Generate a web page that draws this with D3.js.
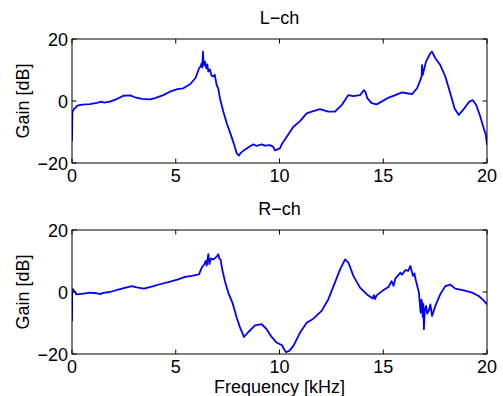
<!DOCTYPE html>
<html>
<head>
<meta charset="utf-8">
<script src="https://cdn.jsdelivr.net/npm/d3@7"></script>
<style>
  html, body { margin: 0; padding: 0; background: #fff; }
  svg text { font-family: "Liberation Sans", Arial, Helvetica, sans-serif; font-size: 18px; fill: #000; }
</style>
</head>
<body>
<div id="chart"></div>
<script>
// Frequency response, left and right channel
const lchFreq = [0, 0.02, 0.1, 0.26, 0.5, 0.87, 1.2, 1.43, 1.55, 1.83, 2.15, 2.47, 2.8, 3.04, 3.36, 3.76, 4.0, 4.4, 4.72, 5.08,
  5.36, 5.69, 5.96, 6.12, 6.2, 6.25, 6.28, 6.31, 6.35, 6.41, 6.47, 6.52, 6.57, 6.65, 6.72, 6.81, 6.88, 6.97, 7.05, 7.13,
  7.29, 7.46, 7.66, 7.82, 7.94, 8.05, 8.12, 8.18, 8.3, 8.42, 8.6, 8.74, 8.9, 9.14, 9.3, 9.54, 9.7, 9.78, 9.9, 10.02,
  10.13, 10.35, 10.67, 10.99, 11.31, 11.55, 11.95, 12.35, 12.67, 13.0, 13.32, 13.56, 13.88, 13.95, 14.07, 14.15, 14.23, 14.44, 14.68, 14.92,
  15.2, 15.58, 15.9, 16.14, 16.39, 16.63, 16.79, 16.85, 16.87, 16.9, 17.06, 17.27, 17.35, 17.51, 17.75, 17.99, 18.23, 18.44, 18.64, 18.88,
  19.15, 19.31, 19.48, 19.68, 19.84, 19.95, 20.0];
const lchGain = [-13, -3.5, -2.6, -1.5, -1.2, -1.0, -0.6, -0.2, -0.5, -0.2, 0.6, 1.7, 1.8, 1.2, 0.7, 0.5, 0.9, 1.9, 3.0, 3.8,
  4.1, 5.4, 7.5, 10.5, 11.2, 12.2, 10.8, 15.9, 11.5, 12.7, 10.5, 11.8, 9.5, 10.2, 8.2, 7.9, 8.5, 5.2, 4.0, 0.9,
  -3.4, -7.2, -11, -14.2, -16.9, -17.6, -16.8, -16.5, -15.8, -15.3, -14.5, -14.0, -14.5, -14.0, -14.4, -14.2, -14.8, -15.9, -15.6, -15.3,
  -13.7, -11.5, -8.3, -6.5, -4.0, -3.4, -2.6, -3.4, -3.4, -1.3, 1.9, 1.6, 1.9, 2.5, 3.5, 2.8, 0.9, -0.7, -1.1, -0.2,
  0.9, 1.9, 2.8, 2.5, 2.2, 4.1, 6.8, 8.0, 11.6, 8.4, 12.7, 15.4, 15.9, 13.8, 11.6, 7.9, 2.5, -2.4, -4.5, -2.6,
  -0.2, 0.3, -1.3, -5.1, -8.8, -11, -14.2];

const rchFreq = [0, 0.01, 0.05, 0.22, 0.55, 0.87, 1.2, 1.35, 1.5, 1.83, 2.31, 2.88, 3.12, 3.47, 3.84, 4.24, 4.64, 5.08, 5.45, 5.77,
  6.12, 6.25, 6.37, 6.45, 6.49, 6.57, 6.62, 6.7, 6.81, 6.9, 6.97, 7.05, 7.1, 7.16, 7.24, 7.37, 7.53, 7.73, 7.94, 8.1,
  8.29, 8.5, 8.82, 9.14, 9.38, 9.62, 9.86, 10.13, 10.18, 10.31, 10.47, 10.67, 10.99, 11.31, 11.63, 12.03, 12.35, 12.67, 12.92, 13.16,
  13.32, 13.56, 13.88, 14.2, 14.49, 14.55, 14.6, 14.68, 15.0, 15.26, 15.4, 15.5, 15.58, 15.82, 15.9, 16.07, 16.2, 16.31, 16.38, 16.43,
  16.5, 16.59, 16.72, 16.8, 16.84, 16.87, 16.9, 16.93, 16.96, 17.0, 17.06, 17.12, 17.19, 17.27, 17.35, 17.51, 17.75, 17.99, 18.23, 18.47,
  18.88, 19.28, 19.6, 19.85, 20.0];
const rchGain = [-9.4, 0.9, 0.9, -0.8, -0.5, -0.2, -0.4, -0.7, -0.3, 0, 0.9, 1.9, 1.5, 1.1, 1.7, 2.5, 3.2, 4.0, 4.9, 5.2,
  5.7, 7.8, 8.9, 10.0, 8.5, 12.2, 9.0, 10.8, 10.5, 11.0, 11.4, 12.2, 10.8, 10.5, 7.3, 3.5, -0.2, -3.4, -8.3, -11.5,
  -14.5, -12.9, -10.8, -10.4, -12.0, -14.5, -16.3, -17.2, -18, -19.4, -19.0, -17.4, -13.1, -9.9, -8.6, -6.1, -2.4, 3.0, 7.3, 10.5,
  9.5, 5.2, 1.4, -0.7, -2.1, -1.0, -2.3, -1.1, 0.6, 1.7, 3.5, 2.0, 4.3, 6.2, 5.6, 7.1, 6.8, 8.4, 6.5, 5.2,
  6.0, 3.2, -0.2, -6.7, -2.5, -3.4, -8, -3.8, -12, -6, -4.5, -7, -6.1, -4, -7.7, -4.5, -0.7, 1.9, 2.4, 1.1,
  0.5, -0.2, -1.3, -2.8, -4.0];

const xTicks = [0, 5, 10, 15, 20];
const yTicks = [-20, 0, 20];

const panels = [
  {title: 'L\u2212ch', freq: lchFreq, gain: lchGain, top: 39},
  {title: 'R\u2212ch', freq: rchFreq, gain: rchGain, top: 230}
];

const width = 503, height = 396;
const left = 72, right = 487, plotH = 124, tickLen = 4.5;

const svg = d3.select('#chart').append('svg')
  .attr('width', width)
  .attr('height', height);

const x = d3.scaleLinear().domain([0, 20]).range([left, right]);
const fmt = d => d < 0 ? '\u2212' + Math.abs(d) : String(d);

panels.forEach((p, i) => {
  const y = d3.scaleLinear().domain([-20, 20]).range([p.top + plotH, p.top]);
  const g = svg.append('g');

  g.append('clipPath').attr('id', 'clip' + i)
    .append('rect')
    .attr('x', left).attr('y', p.top)
    .attr('width', right - left).attr('height', plotH);

  // data line
  const pts = p.freq.map((f, k) => [f, p.gain[k]]);
  g.append('path')
    .datum(pts)
    .attr('clip-path', `url(#clip${i})`)
    .attr('fill', 'none')
    .attr('stroke', '#0000ff')
    .attr('stroke-width', 1.8)
    .attr('stroke-linejoin', 'round')
    .attr('d', d3.line().x(d => x(d[0])).y(d => y(d[1])));

  // inward ticks on all four sides
  const ticks = g.append('g').attr('stroke', '#000').attr('stroke-width', 1);
  xTicks.forEach(t => {
    ticks.append('line').attr('x1', x(t)).attr('x2', x(t)).attr('y1', p.top + plotH).attr('y2', p.top + plotH - tickLen);
    ticks.append('line').attr('x1', x(t)).attr('x2', x(t)).attr('y1', p.top).attr('y2', p.top + tickLen);
  });
  yTicks.forEach(t => {
    ticks.append('line').attr('x1', left).attr('x2', left + tickLen).attr('y1', y(t)).attr('y2', y(t));
    ticks.append('line').attr('x1', right).attr('x2', right - tickLen).attr('y1', y(t)).attr('y2', y(t));
  });

  g.append('rect')
    .attr('x', left).attr('y', p.top)
    .attr('width', right - left).attr('height', plotH)
    .attr('fill', 'none').attr('stroke', '#000').attr('stroke-width', 1);

  g.selectAll('.xt').data(xTicks).enter().append('text')
    .attr('x', d => x(d)).attr('y', p.top + plotH + 19)
    .attr('text-anchor', 'middle')
    .text(fmt);

  g.selectAll('.yt').data(yTicks).enter().append('text')
    .attr('x', left - 4).attr('y', d => y(d) + 6.5)
    .attr('text-anchor', 'end')
    .text(fmt);

  g.append('text')
    .attr('x', (left + right) / 2).attr('y', p.top - 15)
    .attr('text-anchor', 'middle')
    .text(p.title);

  g.append('text')
    .attr('transform', `translate(29,${p.top + plotH / 2}) rotate(-90)`)
    .attr('text-anchor', 'middle')
    .text('Gain [dB]');
});

svg.append('text')
  .attr('x', (left + right) / 2).attr('y', 392.5)
  .attr('text-anchor', 'middle')
  .text('Frequency [kHz]');
</script>
</body>
</html>
